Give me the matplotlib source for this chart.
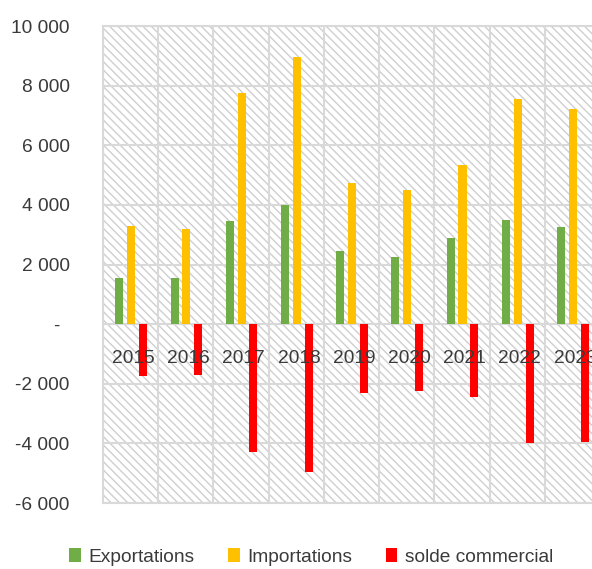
"""Exportations / importations / solde commercial, 2015-2023 (clustered columns)."""

import matplotlib

matplotlib.use("Agg")

import matplotlib.pyplot as plt
import numpy as np
from matplotlib.patches import Patch, Rectangle

years = ["2015", "2016", "2017", "2018", "2019", "2020", "2021", "2022", "2023"]
exportations = [1550, 1550, 3450, 4000, 2450, 2250, 2900, 3500, 3250]
importations = [3300, 3200, 7750, 8950, 4750, 4500, 5350, 7550, 7200]
solde = [-1750, -1700, -4300, -4950, -2300, -2250, -2450, -4000, -3950]

series_names = ["Exportations", "Importations", "solde commercial"]
y_ticks = [10000, 8000, 6000, 4000, 2000, 0, -2000, -4000, -6000]

GREEN = "#70AD47"
GOLD = "#FFC000"
RED = "#FF0000"
GRID = "#D9D9D9"
TEXT = "#3A3A3A"
FS = 13.8

plt.rcParams["font.family"] = ["Liberation Sans", "DejaVu Sans"]
plt.rcParams["hatch.linewidth"] = 1.0

fig = plt.figure(figsize=(5.92, 5.69), dpi=100)
# plot area runs slightly past the right edge of the figure
ax = fig.add_axes([103 / 592, 66 / 569, 497 / 592, 477 / 569])

x = np.arange(len(years))
ax.set_xlim(-0.5, len(years) - 0.5)
ax.set_ylim(-6000, 10000)

# hatched plot background
ax.patch.set_facecolor("white")
ax.add_patch(Rectangle((0, 0), 1, 1, transform=ax.transAxes, facecolor="white",
                       edgecolor="#CFCFCF", linewidth=0, hatch="\\\\\\\\", zorder=0))

# gridlines: horizontal at each tick, vertical between categories
ax.set_yticks(y_ticks)
ax.set_xticks(x)
ax.set_xticks(np.arange(-0.5, len(years), 1.0), minor=True)
ax.grid(True, axis="y", which="major", color=GRID, linewidth=1.5, zorder=1)
ax.grid(True, axis="x", which="minor", color=GRID, linewidth=1.5, zorder=1)
ax.set_axisbelow(True)
for spine in ax.spines.values():
    spine.set_color(GRID)
    spine.set_linewidth(1.5)

width = 0.145
offsets = [-0.205, 0.01, 0.225]
colors = [GREEN, GOLD, RED]
for values, off, col in zip([exportations, importations, solde], offsets, colors):
    ax.bar(x + off, values, width=width, color=col, zorder=3)

# category labels sit just under the zero line, over the bars
for xi, label in zip(x, years):
    ax.text(xi + 0.05, -1150, label, ha="center", va="center",
            fontsize=FS, color=TEXT, zorder=5)


def fmt_tick(v):
    if v == 0:
        return "-\u2002"
    return f"{v:,}".replace(",", " ")


ax.set_yticklabels([fmt_tick(v) for v in y_ticks], fontsize=FS, color=TEXT)
ax.set_xticklabels([])
ax.tick_params(axis="both", which="both", length=0)
ax.tick_params(axis="y", pad=24)

handles = [Patch(facecolor=c, edgecolor="none") for c in colors]
fig.legend(handles, series_names, loc="center", ncol=3, frameon=False,
           bbox_to_anchor=(0.526, 0.021), fontsize=FS, labelcolor=TEXT,
           handlelength=0.6, handleheight=0.75, handletextpad=0.4,
           columnspacing=1.75)

fig.savefig("out.png", dpi=100)
